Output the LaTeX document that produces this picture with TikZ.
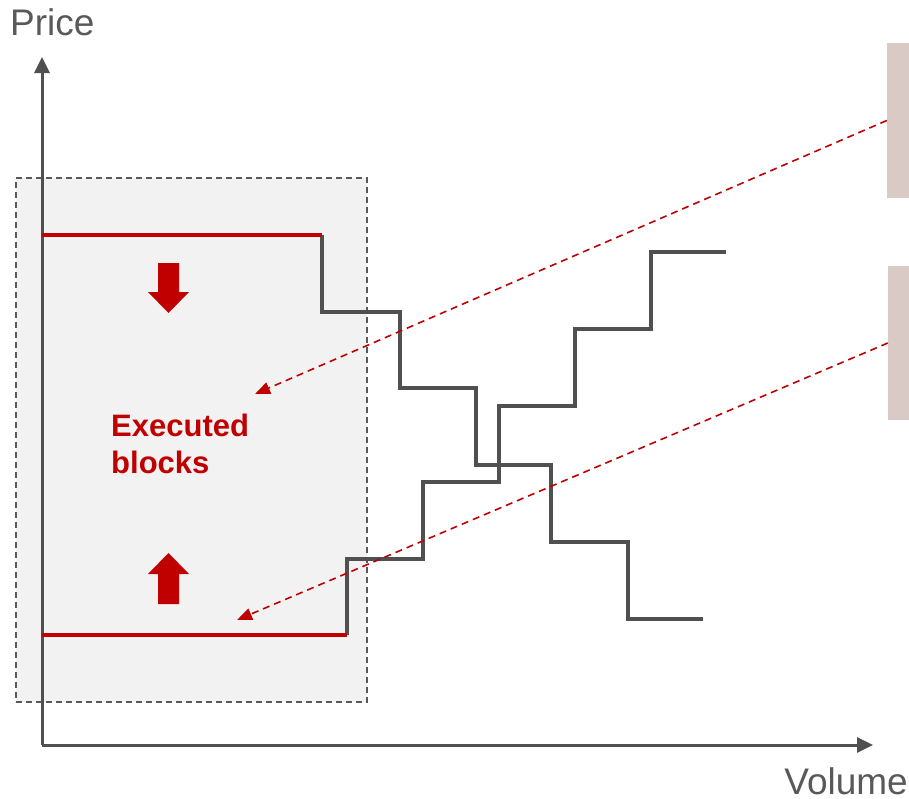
\documentclass[tikz,border=0pt]{standalone}
\usepackage{fontspec}
\setmainfont{Liberation Sans}
\usetikzlibrary{arrows.meta}

\definecolor{axisgray}{HTML}{505050}
\definecolor{blockred}{HTML}{C00000}
\definecolor{panelgray}{HTML}{F2F2F2}
\definecolor{notetan}{HTML}{D9CAC5}
\definecolor{labelgray}{HTML}{595959}

\tikzset{
  axisline/.style={draw=axisgray, line width=3pt, -{Triangle[length=16pt,width=15pt]}},
  axislabel/.style={text=labelgray, inner sep=0pt, font=\fontsize{37}{42}\selectfont},
  panel/.style={fill=panelgray, draw=labelgray, line width=1.3pt, dash pattern=on 6pt off 4pt, inner sep=0pt},
  notebox/.style={fill=notetan, draw=none, inner sep=0pt},
  curve/.style={draw=axisgray, line width=4.5pt, line join=miter},
  priceline/.style={draw=blockred, line width=4.5pt},
  blockarrow/.style={fill=blockred},
  pointer/.style={draw=blockred, line width=1.6pt, dash pattern=on 7pt off 5pt,
                  -{Triangle[length=15pt,width=12pt]}},
  redlabel/.style={text=blockred, inner sep=0pt, align=left,
                   font=\fontsize{31}{37}\selectfont\bfseries}
}

\begin{document}
\begin{tikzpicture}[x=1pt,y=-1pt]
\useasboundingbox (0,0) rectangle (909,798);
\clip (0,0) rectangle (909,798);

% shaded region of executed blocks
\node[panel, minimum width=351pt, minimum height=524pt] (region) at (191.5,440) {};

% note boxes at the right edge
\node[notebox, minimum width=38pt, minimum height=155pt] (noteA) at (906,120.5) {};
\node[notebox, minimum width=38pt, minimum height=154pt] (noteB) at (907,343) {};

% axes
\coordinate (origin) at (42,745);
\coordinate (ytip) at (42,57);
\coordinate (xtip) at (873,745);
\draw[axisline] (origin) -- (ytip);
\draw[axisline] (origin) -- (xtip);
\node[axislabel, anchor=base west] (price) at (10,35) {Price};
\node[axislabel, anchor=base east] (volume) at (908,794) {Volume};

% executed price levels
\coordinate (askstart) at (42,235);
\coordinate (askend) at (322,235);
\coordinate (bidstart) at (42,635);
\coordinate (bidend) at (347,635);

% step curves
\draw[curve] (askend) -- (322,312) -- (400,312) -- (400,388) -- (476,388)
  -- (476,465) -- (551,465) -- (551,542) -- (628,542) -- (628,619) -- (703,619);
\draw[curve] (bidend) -- (347,559) -- (423,559) -- (423,482) -- (499,482)
  -- (499,406) -- (575,406) -- (575,329) -- (651,329) -- (651,252) -- (726,252);

\draw[priceline] (askstart) -- (askend);
\draw[priceline] (bidstart) -- (bidend);

% block arrows
\fill[blockarrow] (158,263) -- (179,263) -- (179,292) -- (189,292) -- (168.5,313)
  -- (148,292) -- (158,292) -- cycle;
\fill[blockarrow] (158,604) -- (179,604) -- (179,574) -- (189,574) -- (168.5,553)
  -- (148,574) -- (158,574) -- cycle;

\node[redlabel, anchor=north west] (executed) at (111,414) {Executed\\blocks};

% pointers from the notes
\coordinate (headA) at (255,394);
\coordinate (headB) at (237,620);
\draw[pointer] (noteA.west) -- (headA);
\draw[pointer] (noteB.west) -- (headB);
\end{tikzpicture}
\end{document}
